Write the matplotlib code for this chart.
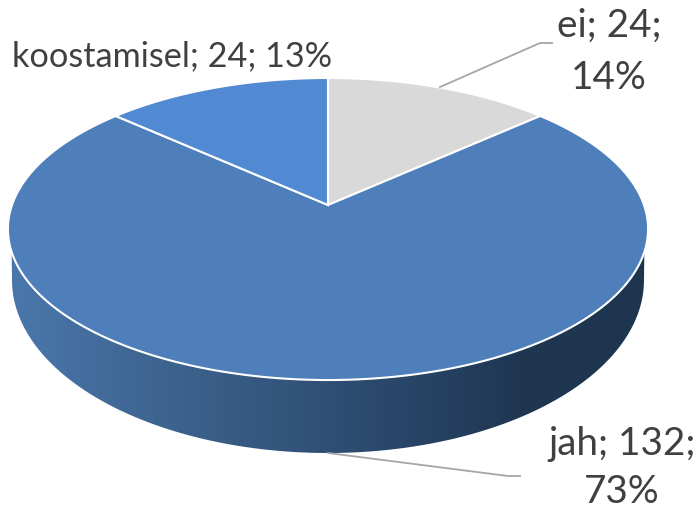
import numpy as np
import matplotlib
matplotlib.use("Agg")
import matplotlib.pyplot as plt
from matplotlib.colors import LinearSegmentedColormap
from matplotlib.patches import Polygon

# Slices, clockwise from the top
categories = ["ei", "jah", "koostamisel"]
values = [24, 132, 24]
top_colors = ["#d9d9d9", "#4e7fba", "#5189d3"]
side_colors = ["#4a77ab", "#3f6794", "#35577f", "#2a476a", "#1f3751", "#1e3550"]

label_lines = [["ei; 24;", "14%"], ["jah; 132;", "73%"], ["koostamisel; 24; 13%"]]

plt.rcParams["font.family"] = ["Lato", "DejaVu Sans"]


# unit circle -> picture, with perspective so the centre sits above the ellipse middle
def project(angle):
    x = np.sin(angle)
    y = np.cos(angle)
    k = 0.159
    d = 1 + k * y
    return 328 + 316 * x / d, 205 - 147.2 * y / d


fig = plt.figure(figsize=(7, 5.09), dpi=100)
ax = fig.add_axes([0, 0, 1, 1])
ax.set_xlim(0, 700)
ax.set_ylim(509, 0)
ax.axis("off")

# side of the disc, gradient clipped to the rim
t = np.linspace(-np.pi / 2 - 0.14, np.pi / 2 + 0.14, 200)
upper_x = 328 + 320 * np.sin(t)
upper_y = 229 + 151 * np.cos(t)
t2 = np.linspace(np.pi / 2, -np.pi / 2, 200)
lower_x = 328 + 316 * np.sin(t2)
lower_y = 280 + 173 * np.cos(t2)
rim = Polygon(np.column_stack([np.r_[upper_x, lower_x], np.r_[upper_y, lower_y]]),
              closed=True, fc="none", ec="none")
ax.add_patch(rim)
cmap = LinearSegmentedColormap.from_list("rim", side_colors)
grad = ax.imshow(np.linspace(0, 1, 256).reshape(1, -1), cmap=cmap, aspect="auto",
                 extent=(10, 646, 509, 0), zorder=1)
grad.set_clip_path(rim)
ax.set_xlim(0, 700)
ax.set_ylim(509, 0)

# top of the disc
edges = np.cumsum([0] + values) / sum(values) * 2 * np.pi
for i in range(len(values)):
    a = np.linspace(edges[i], edges[i + 1], 200)
    px, py = project(a)
    pts = np.column_stack([np.r_[328, px], np.r_[205, py]])
    ax.add_patch(Polygon(pts, closed=True, fc=top_colors[i], ec="white", lw=1.5, zorder=2))

# leader lines
ax.plot([440, 540, 552], [87, 43, 43], color="#a6a6a6", lw=1.3, zorder=3)
ax.plot([328, 508, 520], [453, 476, 476], color="#a6a6a6", lw=1.3, zorder=3)

# labels
fs = 27.8
ax.text(609, 37, label_lines[0][0], ha="center", va="baseline", fontsize=fs, color="#404040")
ax.text(609, 89, label_lines[0][1], ha="center", va="baseline", fontsize=fs, color="#404040")
ax.text(622, 455, label_lines[1][0], ha="center", va="baseline", fontsize=fs, color="#404040")
ax.text(622, 503, label_lines[1][1], ha="center", va="baseline", fontsize=fs, color="#404040")
ax.text(172.5, 66, label_lines[2][0], ha="center", va="baseline", fontsize=24.7, color="#404040")

fig.savefig("out.png", dpi=100)
